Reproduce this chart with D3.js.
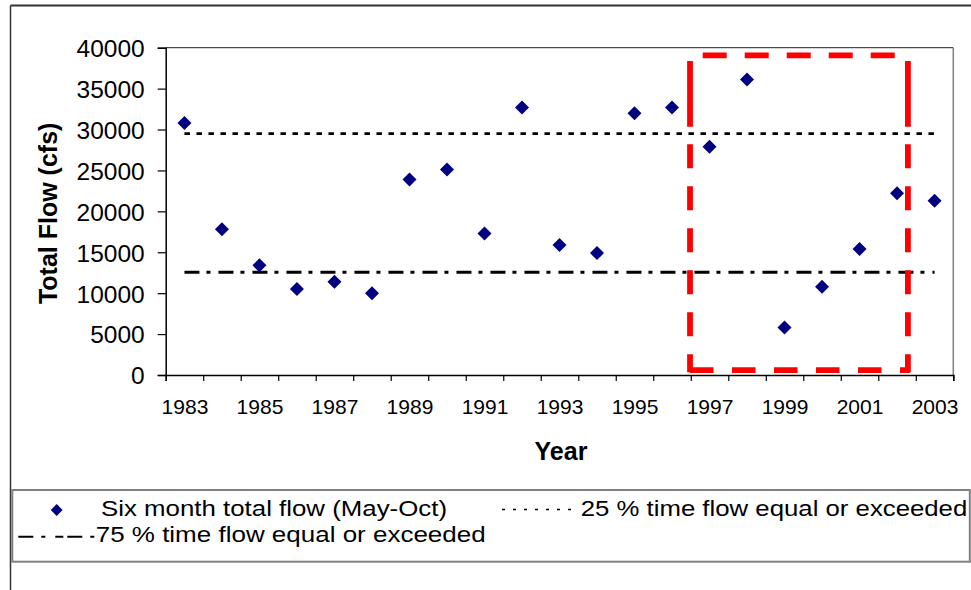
<!DOCTYPE html>
<html>
<head>
<meta charset="utf-8">
<script src="https://cdn.jsdelivr.net/npm/d3@7"></script>
<style>
  html, body { margin: 0; padding: 0; background: #fff; }
  svg { display: block; font-family: "Liberation Sans", Arial, sans-serif; }
</style>
</head>
<body>
<svg id="chart" width="971" height="590"></svg>
<script>
// ---- data ----
const years = [1983,1984,1985,1986,1987,1988,1989,1990,1991,1992,1993,1994,1995,1996,1997,1998,1999,2000,2001,2002,2003];
const flows = [30800,17800,13400,10500,11400,10000,23900,25100,17300,32700,15900,14900,32000,32700,27900,36100,5800,10800,15400,22200,21300];
const yTicks = [0,5000,10000,15000,20000,25000,30000,35000,40000];
const xLabels = [1983,1985,1987,1989,1991,1993,1995,1997,1999,2001,2003];
const flow25 = 29500;   // 25 % time flow equal or exceeded
const flow75 = 12550;   // 75 % time flow equal or exceeded
const boxYears = [1996.48, 2002.29];   // highlight box (year units)
const boxFlows = [590, 39070];         // highlight box (cfs)
const legendLabels = ["Six month total flow (May-Oct)", "25 % time flow equal or exceeded", "75 % time flow equal or exceeded"];

// ---- layout ----
const svg = d3.select("#chart");
const L = 165.7, R = 953.3, T = 47.7, B = 375;
const x = d3.scaleLinear().domain([years[0] - 0.5, years[years.length - 1] + 0.5]).range([L, R]);
const y = d3.scaleLinear().domain([0, 40000]).range([B, T]);
const font = '"Liberation Sans", Arial, sans-serif';

// outer chart border (top and left visible)
svg.append("line").attr("x1", 10.5).attr("x2", 971).attr("y1", 5.5).attr("y2", 5.5)
  .attr("stroke", "#333").attr("stroke-width", 1.8);
svg.append("line").attr("x1", 10.5).attr("x2", 10.5).attr("y1", 5.5).attr("y2", 590)
  .attr("stroke", "#333").attr("stroke-width", 1.5);

// plot frame top / right
svg.append("line").attr("x1", L).attr("x2", R).attr("y1", T).attr("y2", T)
  .attr("stroke", "#222").attr("stroke-width", 1);
svg.append("line").attr("x1", R).attr("x2", R).attr("y1", T).attr("y2", B)
  .attr("stroke", "#808080").attr("stroke-width", 1.5);

// y axis
const yAxis = svg.append("g").attr("transform", `translate(${L},0)`)
  .call(d3.axisLeft(y).tickValues(yTicks).tickSize(8).tickPadding(13).tickFormat(d3.format("d")));
yAxis.selectAll("text").attr("font-size", 24.5).attr("font-family", font).attr("fill", "#000").attr("dy", "0.36em");
yAxis.selectAll("line").attr("stroke", "#000").attr("stroke-width", 1.2);
yAxis.select(".domain").attr("stroke", "#000").attr("stroke-width", 1.5);

// x axis: tick marks at category boundaries
const tickPos = years.map(d => d - 0.5).concat([years[years.length - 1] + 0.5]);
const xAxis = svg.append("g").attr("transform", `translate(0,${B})`)
  .call(d3.axisBottom(x).tickValues(tickPos).tickSize(6).tickFormat(""));
xAxis.selectAll("line").attr("stroke", "#000").attr("stroke-width", 1.2);
xAxis.select(".domain").attr("stroke", "#000").attr("stroke-width", 1.5);
// labels at category centres
const xLab = svg.append("g").attr("transform", `translate(0,${B})`)
  .call(d3.axisBottom(x).tickValues(xLabels).tickSize(0).tickPadding(24.4).tickFormat(d3.format("d")));
xLab.select(".domain").remove();
xLab.selectAll("text").attr("font-size", 21).attr("font-family", font).attr("fill", "#000");

// axis titles
svg.append("text").attr("x", (L + R) / 2 + 1.5).attr("y", 460).attr("text-anchor", "middle")
  .attr("font-size", 25).attr("font-weight", "bold").attr("font-family", font).text("Year");
svg.append("text").attr("transform", `translate(57,${(T + B) / 2 + 2}) rotate(-90)`)
  .attr("text-anchor", "middle").attr("font-size", 25).attr("font-weight", "bold")
  .attr("font-family", font).text("Total Flow (cfs)");

// percentile lines
const x0 = x(years[0]), x1 = x(years[years.length - 1]);
svg.append("line").attr("x1", x0).attr("x2", x1).attr("y1", y(flow25)).attr("y2", y(flow25))
  .attr("stroke", "#000").attr("stroke-width", 2.6).attr("stroke-dasharray", "5.5,6.5");
svg.append("line").attr("x1", x0).attr("x2", x1).attr("y1", y(flow75)).attr("y2", y(flow75))
  .attr("stroke", "#000").attr("stroke-width", 3).attr("stroke-dasharray", "15,7,4,8");

// highlight box (red dashed)
const bx0 = x(boxYears[0]), bx1 = x(boxYears[1]);
const by0 = y(boxFlows[1]), by1 = y(boxFlows[0]);
const red = "#ff0000";
const box = svg.append("g").attr("fill", "none").attr("stroke", red).attr("stroke-width", 5.8);
box.append("line").attr("x1", bx0).attr("x2", bx1).attr("y1", by0).attr("y2", by0)
  .attr("stroke-dasharray", "24,18").attr("stroke-dashoffset", 29.3);
box.append("line").attr("x1", bx0).attr("x2", bx1 + 2).attr("y1", by1).attr("y2", by1)
  .attr("stroke-dasharray", "23.5,18.5");
[bx0, bx1].forEach(bx => {
  box.append("line").attr("x1", bx).attr("x2", bx).attr("y1", by0 + 5.7).attr("y2", by1 + 2)
    .attr("stroke-dasharray", "65.7,17.6,24,18,24,18,24,18,24,18,24,18,24,18");
});

// data points (diamonds)
const diamond = d3.symbol().type(d3.symbolSquare).size(98);
svg.append("g").selectAll("path").data(years).join("path")
  .attr("d", diamond)
  .attr("transform", (d, i) => `translate(${x(d)},${y(flows[i])}) rotate(45)`)
  .attr("fill", "#000080");

// legend
const lg = svg.append("g");
lg.append("rect").attr("x", 12.3).attr("y", 490).attr("width", 957.5).attr("height", 71.7)
  .attr("fill", "#fff").attr("stroke", "#808080").attr("stroke-width", 2);
lg.append("path").attr("d", d3.symbol().type(d3.symbolSquare).size(70))
  .attr("transform", "translate(56.7,510) rotate(45)").attr("fill", "#000080");
lg.append("text").attr("x", 101).attr("y", 515.5).attr("font-size", 22).attr("font-family", font)
  .attr("textLength", 346).attr("lengthAdjust", "spacingAndGlyphs").text(legendLabels[0]);
lg.append("line").attr("x1", 500).attr("x2", 578).attr("y1", 509.5).attr("y2", 509.5)
  .attr("stroke", "#000").attr("stroke-width", 1.5).attr("stroke-dasharray", "3,8").attr("stroke-dashoffset", -2);
lg.append("text").attr("x", 580.7).attr("y", 515.5).attr("font-size", 22).attr("font-family", font)
  .attr("textLength", 386.6).attr("lengthAdjust", "spacingAndGlyphs").text(legendLabels[1]);
lg.append("line").attr("x1", 18.3).attr("x2", 95).attr("y1", 536.7).attr("y2", 536.7)
  .attr("stroke", "#000").attr("stroke-width", 2).attr("stroke-dasharray", "15,8,4,10,8,4");
lg.append("text").attr("x", 95.7).attr("y", 542).attr("font-size", 22).attr("font-family", font)
  .attr("textLength", 390).attr("lengthAdjust", "spacingAndGlyphs").text(legendLabels[2]);
</script>
</body>
</html>
